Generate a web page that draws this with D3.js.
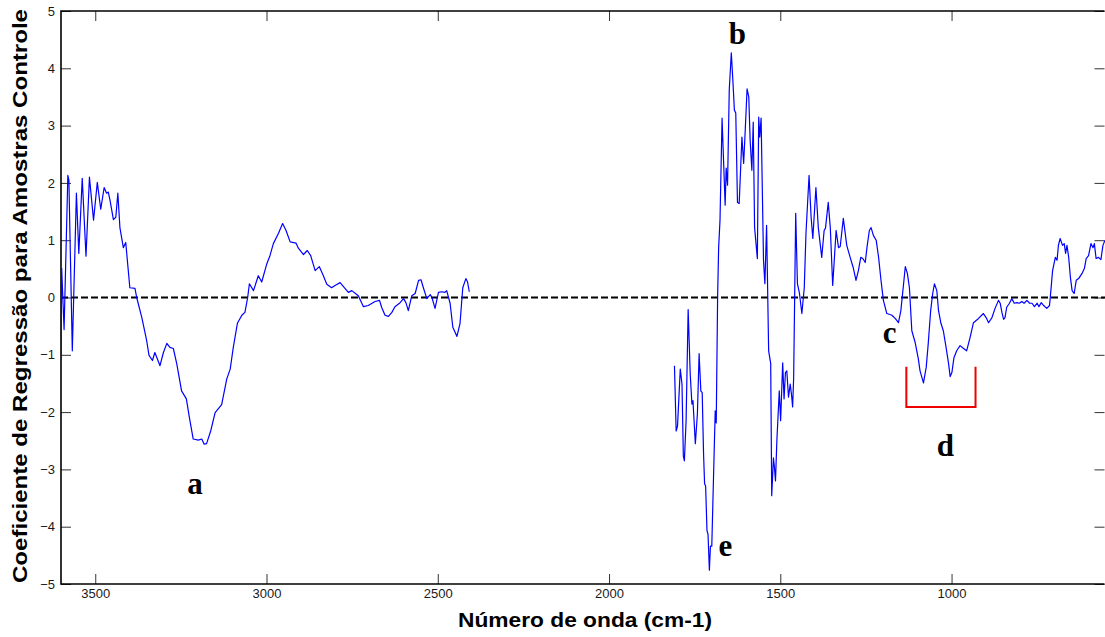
<!DOCTYPE html>
<html>
<head>
<meta charset="utf-8">
<script src="https://cdn.jsdelivr.net/npm/d3@7/dist/d3.min.js"></script>
<style>
  body { margin: 0; background: #fff; }
  svg { display: block; }
</style>
</head>
<body>
<script>
// Regression coefficient spectrum, high-wavenumber segment (cm-1)
const waveA = [3600, 3598, 3591, 3580, 3577, 3567, 3555, 3548, 3538, 3527, 3517, 3505, 3494, 3484, 3474, 3467, 3462, 3457, 3447, 3440, 3434, 3428, 3418, 3411, 3399, 3384, 3379, 3364, 3350, 3343, 3333, 3326, 3311, 3301, 3291, 3282, 3272, 3262, 3248, 3234, 3225, 3214, 3199, 3189, 3182, 3175, 3163, 3150, 3131, 3116, 3106, 3097, 3085, 3072, 3063, 3055, 3050, 3038, 3024, 3014, 2999, 2990, 2980, 2965, 2953, 2943, 2931, 2914, 2907, 2892, 2881, 2871, 2858, 2846, 2834, 2824, 2810, 2800, 2785, 2771, 2761, 2751, 2732, 2717, 2703, 2683, 2670, 2664, 2654, 2644, 2634, 2625, 2610, 2600, 2593, 2586, 2576, 2566, 2556, 2549, 2542, 2532, 2522, 2517, 2508, 2498, 2488, 2479, 2474, 2464, 2456, 2444, 2435, 2427, 2418, 2413, 2408];
const coefA = [-1.10, 0.51, -0.56, 2.13, 2.05, -0.93, 1.82, 0.77, 2.08, 0.72, 2.10, 1.35, 2.01, 1.54, 1.92, 1.82, 1.84, 1.70, 1.36, 1.40, 1.82, 1.22, 0.87, 0.96, 0.17, 0.16, 0.00, -0.35, -0.75, -1.01, -1.10, -0.96, -1.19, -0.96, -0.80, -0.87, -0.89, -1.16, -1.63, -1.77, -2.10, -2.47, -2.49, -2.47, -2.56, -2.55, -2.33, -2.01, -1.87, -1.42, -1.25, -0.87, -0.45, -0.31, -0.26, 0.00, 0.24, 0.12, 0.38, 0.27, 0.59, 0.73, 0.94, 1.12, 1.29, 1.17, 0.97, 0.95, 0.86, 0.75, 0.82, 0.73, 0.47, 0.54, 0.38, 0.23, 0.17, 0.21, 0.26, 0.16, 0.09, 0.12, 0.03, -0.16, -0.14, -0.07, -0.05, -0.17, -0.31, -0.33, -0.26, -0.16, -0.09, -0.02, -0.09, -0.23, 0.03, 0.07, 0.30, 0.31, 0.17, -0.02, 0.05, 0.00, -0.19, 0.09, 0.10, 0.09, 0.12, -0.10, -0.52, -0.68, -0.45, 0.17, 0.33, 0.27, 0.10];

// Fingerprint segment (cm-1)
const waveB = [1809, 1804, 1800, 1792, 1787, 1783, 1780, 1775, 1769, 1763, 1758, 1755, 1753, 1748, 1742, 1737, 1732, 1728, 1724, 1721, 1718, 1714, 1711, 1707, 1704, 1700, 1695, 1690, 1687, 1683, 1680, 1676, 1670, 1666, 1661, 1658, 1654, 1649, 1643, 1638, 1634, 1630, 1625, 1620, 1612, 1607, 1603, 1597, 1592, 1588, 1583, 1579, 1575, 1567, 1563, 1560, 1556, 1549, 1545, 1540, 1534, 1528, 1525, 1520, 1517, 1514, 1510, 1503, 1499, 1493, 1489, 1485, 1481, 1476, 1471, 1467, 1464, 1461, 1455, 1450, 1444, 1437, 1430, 1425, 1416, 1410, 1405, 1396, 1389, 1379, 1372, 1368, 1360, 1354, 1347, 1337, 1330, 1325, 1316, 1306, 1296, 1287, 1279, 1272, 1265, 1259, 1252, 1247, 1240, 1235, 1228, 1220, 1213, 1206, 1199, 1189, 1174, 1164, 1155, 1148, 1140, 1135, 1129, 1123, 1116, 1106, 1097, 1092, 1082, 1074, 1068, 1061, 1055, 1050, 1043, 1038, 1031, 1024, 1016, 1009, 1004, 999, 993, 985, 975, 965, 956, 946, 936, 922, 907, 899, 892, 882, 873, 863, 858, 853, 848, 844, 839, 831, 824, 817, 809, 802, 795, 788, 780, 772, 765, 758, 750, 745, 738, 731, 722, 714, 710, 705, 697, 692, 688, 683, 676, 671, 667, 663, 658, 653, 648, 642, 636, 629, 619, 612, 607, 600, 593, 587, 583, 578, 571, 564, 558, 552];
const coefB = [-1.19, -2.33, -2.24, -1.25, -1.51, -2.77, -2.85, -2.15, -0.21, -1.33, -1.86, -1.80, -2.01, -2.55, -2.03, -0.98, -1.63, -1.66, -2.73, -3.25, -3.29, -4.07, -4.13, -4.76, -4.34, -4.34, -3.15, -1.98, -2.19, 0.00, 0.87, 1.35, 3.13, 2.45, 1.61, 2.26, 1.96, 3.62, 4.27, 3.74, 3.27, 3.22, 1.66, 1.64, 2.80, 2.34, 2.83, 3.64, 3.50, 2.74, 2.22, 3.06, 1.22, 0.68, 3.15, 2.80, 3.13, 0.65, 0.24, 1.26, -0.93, -1.15, -3.46, -2.80, -2.97, -3.20, -2.50, -1.63, -2.15, -1.14, -1.77, -1.31, -1.28, -1.74, -1.51, -1.71, -1.91, -1.40, 1.47, 0.24, 0.07, -0.28, 0.17, 1.12, 2.13, 1.40, 1.03, 1.92, 1.22, 0.70, 1.17, 1.21, 1.66, 1.22, 0.21, 1.17, 0.87, 0.89, 1.38, 0.91, 0.70, 0.52, 0.30, 0.47, 0.70, 0.68, 0.61, 0.87, 1.17, 1.22, 1.08, 1.00, 0.70, 0.30, -0.05, -0.28, -0.31, -0.37, -0.44, -0.23, 0.24, 0.54, 0.42, 0.17, -0.58, -0.79, -1.07, -1.28, -1.49, -1.22, -0.80, -0.23, 0.07, 0.24, 0.12, -0.23, -0.45, -0.58, -0.87, -1.14, -1.38, -1.31, -1.05, -0.93, -0.84, -0.89, -0.93, -0.70, -0.44, -0.37, -0.28, -0.35, -0.44, -0.35, -0.19, -0.05, -0.10, -0.26, -0.38, -0.35, -0.17, -0.10, -0.02, -0.10, -0.09, -0.10, -0.07, -0.10, -0.05, -0.10, -0.10, -0.16, -0.10, -0.16, -0.09, -0.14, -0.19, -0.14, 0.12, 0.47, 0.70, 0.65, 0.91, 1.03, 0.91, 0.94, 0.77, 0.91, 0.70, 0.35, 0.12, 0.07, 0.30, 0.33, 0.42, 0.51, 0.68, 0.73, 0.94, 0.87, 0.94, 0.68, 0.70, 0.66, 0.91, 1.00];

const xTicks = [3500, 3000, 2500, 2000, 1500, 1000];
const yTicks = [-5, -4, -3, -2, -1, 0, 1, 2, 3, 4, 5];

// Band annotations
const peakLabels = ["a", "b", "c", "d", "e"];
const peakWave = [3209, 1625, 1181, 1018, 1660];
const peakCoef = [-3.43, 4.42, -0.80, -2.76, -4.51];

// Bracket grouping the two bands under "d"
const bracketWave = [1132, 930];
const bracketCoef = [-1.21, -1.91];

const W = 1105, H = 637;
const plotLeft = 61, plotRight = 1105, plotTop = 11, plotBottom = 584;

const x = d3.scaleLinear().domain([3600, 552]).range([plotLeft, plotRight]);
const y = d3.scaleLinear().domain([-5, 5]).range([plotBottom, plotTop]);

const svg = d3.select("body").append("svg")
  .attr("width", W).attr("height", H)
  .style("font-family", "Arial, 'Liberation Sans', sans-serif");

svg.append("defs").append("clipPath").attr("id", "plot-clip")
  .append("rect").attr("x", plotLeft).attr("y", plotTop)
  .attr("width", plotRight - plotLeft).attr("height", plotBottom - plotTop);

// Axes with inward ticks on all four sides
const tickLen = 10;
const gx = svg.append("g").attr("transform", `translate(0,${plotBottom})`)
  .call(d3.axisBottom(x).tickValues(xTicks).tickSizeInner(-tickLen).tickSizeOuter(0).tickPadding(5).tickFormat(d3.format("d")));
const gxTop = svg.append("g").attr("transform", `translate(0,${plotTop})`)
  .call(d3.axisTop(x).tickValues(xTicks).tickSizeInner(-tickLen).tickSizeOuter(0).tickFormat(""));
const gy = svg.append("g").attr("transform", `translate(${plotLeft},0)`)
  .call(d3.axisLeft(y).tickValues(yTicks).tickSizeInner(-tickLen).tickSizeOuter(0).tickPadding(6).tickFormat(d3.format("d")));
const gyRight = svg.append("g").attr("transform", `translate(${plotRight - 0.5},0)`)
  .call(d3.axisRight(y).tickValues(yTicks).tickSizeInner(-tickLen).tickSizeOuter(0).tickFormat(""));

[gx, gxTop, gy, gyRight].forEach(g => {
  g.select(".domain").remove();
  g.selectAll(".tick line").attr("stroke", "#333").attr("stroke-width", 1);
  g.selectAll(".tick text").attr("fill", "#1a1a1a").style("font-size", "13px");
});

// Frame
svg.append("path")
  .attr("d", `M${plotRight - 0.5},${plotTop} H${plotLeft} V${plotBottom} H${plotRight - 0.5}`)
  .attr("fill", "none").attr("stroke", "#000").attr("stroke-width", 1.6);

// Zero reference line
svg.append("line")
  .attr("x1", plotLeft).attr("x2", plotRight)
  .attr("y1", y(0)).attr("y2", y(0))
  .attr("stroke", "#000").attr("stroke-width", 2)
  .attr("stroke-dasharray", "7,3");

// Spectrum
const line = d3.line().x(d => x(d[0])).y(d => y(d[1]));
const plot = svg.append("g").attr("clip-path", "url(#plot-clip)");
[[waveA, coefA], [waveB, coefB]].forEach(([w, c]) => {
  plot.append("path")
    .datum(d3.zip(w, c))
    .attr("d", line)
    .attr("fill", "none")
    .attr("stroke", "#0000ff")
    .attr("stroke-width", 1.2)
    .attr("stroke-linejoin", "round");
});

// Bracket
svg.append("path")
  .attr("d", `M${x(bracketWave[0])},${y(bracketCoef[0])} V${y(bracketCoef[1])} H${x(bracketWave[1])} V${y(bracketCoef[0])}`)
  .attr("fill", "none").attr("stroke", "#ee0000").attr("stroke-width", 2);

// Band letters
svg.append("g").selectAll("text")
  .data(d3.range(peakLabels.length))
  .join("text")
  .attr("x", i => x(peakWave[i]))
  .attr("y", i => y(peakCoef[i]))
  .attr("text-anchor", "middle")
  .style("font-family", "'Liberation Serif', 'Times New Roman', serif")
  .style("font-weight", "bold")
  .style("font-size", "31px")
  .text(i => peakLabels[i]);

// Axis titles
svg.append("text")
  .attr("x", 585).attr("y", 627)
  .attr("text-anchor", "middle")
  .attr("textLength", 254).attr("lengthAdjust", "spacingAndGlyphs")
  .style("font-weight", "bold").style("font-size", "20px")
  .text("Número de onda (cm-1)");

svg.append("text")
  .attr("transform", "translate(27,296) rotate(-90)")
  .attr("text-anchor", "middle")
  .attr("textLength", 574).attr("lengthAdjust", "spacingAndGlyphs")
  .style("font-weight", "bold").style("font-size", "20px")
  .text("Coeficiente de Regressão para Amostras Controle");
</script>
</body>
</html>
